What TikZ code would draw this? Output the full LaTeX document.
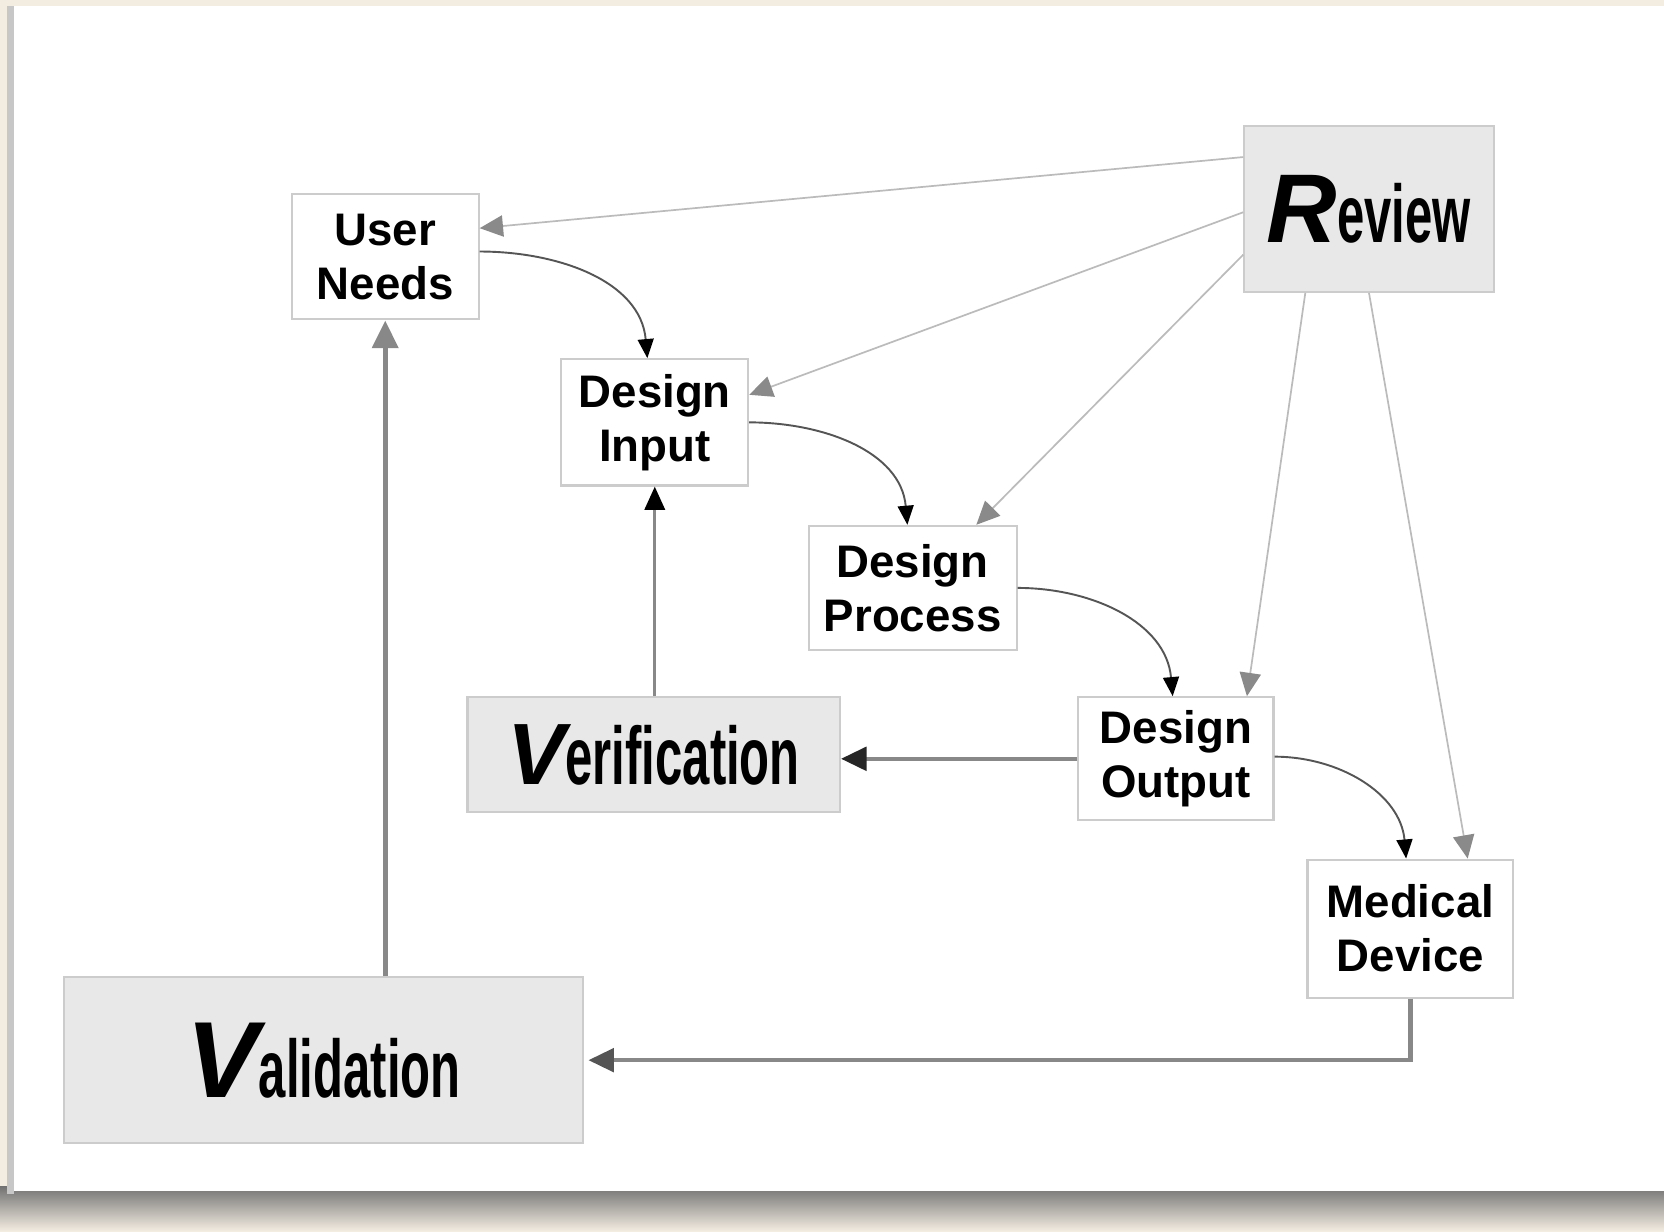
\documentclass[tikz,border=0pt]{standalone}
\usepackage{fontspec}
\setmainfont{Liberation Sans}
\usepackage{graphicx}
\usetikzlibrary{arrows.meta,calc}
\definecolor{beige}{HTML}{F3ECE1}
\definecolor{boxline}{HTML}{CCCCCC}
\definecolor{boxfill}{HTML}{E8E8E8}
\definecolor{lightarrow}{HTML}{BBBBBB}
\definecolor{tipgray}{HTML}{8A8A8A}
\definecolor{midgray}{HTML}{888888}
\definecolor{darkline}{HTML}{555555}
\tikzset{
  smallbox/.style={draw=boxline, line width=2pt, fill=white, inner sep=0pt, align=center,
    font=\fontsize{43}{51}\selectfont\bfseries},
  bigbox/.style={draw=boxline, line width=2pt, fill=boxfill, inner sep=0pt, align=center},
  rvw/.style={draw=lightarrow, line width=1.6pt, -{Triangle[length=22pt,width=20pt,color=tipgray]}},
  flow/.style={draw=darkline, line width=1.8pt, -{Triangle[length=18pt,width=15pt,color=black]}},
  thickgray/.style={draw=midgray, line width=4pt},
}
\newcommand{\bigV}[3]{{\fontsize{#1}{#1}\selectfont\bfseries\itshape #2}{\scalebox{0.6}[1]{\fontsize{77}{77}\selectfont\bfseries #3}}}
\begin{document}
\begin{tikzpicture}[x=1pt,y=-1pt]
% background
\fill[beige] (0,0) rectangle (1568,1141);
\shade[top color=black!55, bottom color=beige] (0,1118) rectangle (1568,1160);
\fill[black!22] (7,6) rectangle (13,1125);
\fill[white] (13,6) rectangle (1568,1122);
\useasboundingbox (0,0) rectangle (1568,1141);
% nodes
\node[smallbox, minimum width=176pt, minimum height=118pt] (un) at (363,242) {User\\Needs};
\node[smallbox, minimum width=176pt, minimum height=119pt] (di) at (617,398) {Design\\Input};
\node[smallbox, minimum width=196pt, minimum height=117pt] (dp) at (860,554) {Design\\Process};
\node[smallbox, minimum width=184pt, minimum height=116pt] (do) at (1108,715) {Design\\Output};
\node[smallbox, minimum width=194pt, minimum height=130pt] (md) at (1329,875) {Medical\\Device};
\node[bigbox, minimum width=235pt, minimum height=156pt] (rv) at (1290,197) {\bigV{92}{R}{eview}};
\node[bigbox, minimum width=351pt, minimum height=108pt] (vf) at (616,711) {\bigV{82}{V}{erification}};
\node[bigbox, minimum width=489pt, minimum height=156pt] (va) at (305,999) {\bigV{102}{V}{alidation}};
% review arrows
\draw[rvw] ([yshift=49pt]rv.west) -- ([yshift=27pt]un.east);
\draw[rvw] ([yshift=-3pt]rv.west) -- ([yshift=26pt]di.east);
\draw[rvw] ([yshift=-43pt]rv.west) -- ([xshift=60pt]dp.north);
\draw[rvw] ([xshift=-60pt]rv.south) -- ([xshift=67pt]do.north);
\draw[rvw] (rv.south) -- ([xshift=54pt]md.north);
% flow curves
\draw[flow] ([yshift=5pt]un.east) to[out=0,in=95] ([xshift=-7pt]di.north);
\draw[flow] (di.east) to[out=0,in=95] ([xshift=-5pt]dp.north);
\draw[flow] (dp.east) to[out=0,in=95] ([xshift=-3pt]do.north);
\draw[flow] ([yshift=2pt]do.east) to[out=0,in=95] ([xshift=-4pt]md.north);
% verification / validation
\draw[draw=midgray, line width=3pt, -{Triangle[length=22pt,width=19pt,color=black]}] (vf.north -| di.south) -- (di.south);
\draw[thickgray, -{Triangle[length=24pt,width=22pt,color=black!85]}] (do.west) -- (do.west -| vf.east);
\draw[draw=midgray, line width=5pt, -{Triangle[length=26pt,width=24pt,color=midgray]}] (un.south |- va.north) -- (un.south);
\draw[thickgray, -{Triangle[length=24pt,width=22pt,color=darkline]}] (md.south) |- ([xshift=4pt]va.east);
\end{tikzpicture}
\end{document}
